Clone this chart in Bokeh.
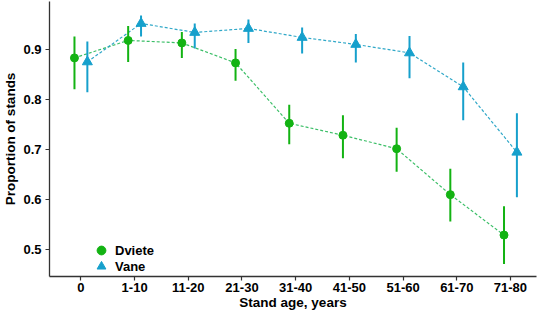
from bokeh.plotting import figure
from bokeh.models import ColumnDataSource, Range1d, FixedTicker, Legend, LegendItem
from bokeh.transform import dodge
from bokeh.embed import file_html
from bokeh.resources import INLINE

age_classes = ["0", "1-10", "11-20", "21-30", "31-40", "41-50", "51-60", "61-70", "71-80"]

dviete_mean = [0.884, 0.919, 0.914, 0.874, 0.753, 0.729, 0.702, 0.610, 0.529]
dviete_low = [0.821, 0.876, 0.884, 0.838, 0.711, 0.683, 0.656, 0.556, 0.471]
dviete_high = [0.927, 0.948, 0.936, 0.902, 0.790, 0.769, 0.744, 0.662, 0.587]

vane_mean = [0.876, 0.953, 0.935, 0.943, 0.925, 0.911, 0.894, 0.826, 0.695]
vane_low = [0.815, 0.927, 0.903, 0.914, 0.893, 0.875, 0.843, 0.759, 0.605]
vane_high = [0.917, 0.969, 0.953, 0.961, 0.945, 0.932, 0.928, 0.875, 0.773]

y_ticks = [0.5, 0.6, 0.7, 0.8, 0.9]

GREEN = "#13b313"
BLUE = "#16a0cc"
GREEN_LINE = "#3cbf68"
BLUE_LINE = "#30a8c8"
FONT = "Liberation Sans"

xs = list(range(len(age_classes)))
src_d = ColumnDataSource(dict(x=xs, m=dviete_mean, lo=dviete_low, hi=dviete_high))
src_v = ColumnDataSource(dict(x=xs, m=vane_mean, lo=vane_low, hi=vane_high))

p = figure(width=540, height=312, output_backend="svg", toolbar_location=None,
           x_range=Range1d(-0.585, len(age_classes) - 1 + 0.485),
           y_range=Range1d(0.446, 0.997),
           min_border_left=44, min_border_right=4, min_border_top=1, min_border_bottom=33)
p.outline_line_color = None
p.grid.visible = False
p.background_fill_color = "white"
p.border_fill_color = "white"

DOD = 0.12
xd = dodge("x", -DOD, range=p.x_range)
xv = dodge("x", DOD, range=p.x_range)

p.line(x=xd, y="m", source=src_d, line_color=GREEN_LINE, line_width=1.2, line_dash="3 2")
p.line(x=xv, y="m", source=src_v, line_color=BLUE_LINE, line_width=1.2, line_dash="3 2")

p.segment(x0=xd, y0="lo", x1=xd, y1="hi", source=src_d, line_color=GREEN, line_width=2)
p.segment(x0=xv, y0="lo", x1=xv, y1="hi", source=src_v, line_color=BLUE, line_width=2)

rd = p.scatter(x=xd, y="m", source=src_d, marker="circle", size=8, fill_color=GREEN, line_color=GREEN)
rv = p.scatter(x=xv, y="m", source=src_v, marker="triangle", size=10, fill_color=BLUE, line_color=BLUE)

p.xaxis.ticker = FixedTicker(ticks=xs)
p.xaxis.major_label_overrides = {i: lab for i, lab in enumerate(age_classes)}
p.yaxis.ticker = FixedTicker(ticks=y_ticks)
p.yaxis.major_label_overrides = {t: f"{t:.1f}" for t in y_ticks}

for ax in (p.xaxis, p.yaxis):
    ax.axis_line_color = "#333333"
    ax.axis_line_width = 1.3
    ax.major_tick_line_color = "#333333"
    ax.major_tick_line_width = 1.2
    ax.major_tick_out = 4
    ax.major_tick_in = 0
    ax.minor_tick_line_color = None
    ax.major_label_text_font = FONT
    ax.major_label_text_font_style = "bold"
    ax.major_label_text_font_size = "13px"
    ax.major_label_text_color = "black"
    ax.axis_label_text_font = FONT
    ax.axis_label_text_font_style = "bold"
    ax.axis_label_text_font_size = "13.5px"
    ax.axis_label_text_color = "black"

p.xaxis.axis_label = "Stand age, years"
p.yaxis.axis_label = "Proportion of stands"
p.xaxis.major_label_standoff = 2
p.xaxis.axis_label_standoff = 0
p.yaxis.major_label_standoff = 4
p.yaxis.axis_label_standoff = 2

legend_style = dict(padding=0, margin=0, spacing=0,
                    glyph_width=22, glyph_height=22, label_height=12, label_standoff=3,
                    label_text_font=FONT, label_text_font_style="bold",
                    label_text_font_size="13px", label_text_color="black",
                    background_fill_alpha=0, border_line_color=None)
leg_d = Legend(items=[LegendItem(label="Dviete", renderers=[rd])], location=(41, 15), **legend_style)
leg_v = Legend(items=[LegendItem(label="Vane", renderers=[rv])], location=(41, -1), **legend_style)
p.add_layout(leg_d)
p.add_layout(leg_v)

open("out.html", "w").write(file_html(p, INLINE))
